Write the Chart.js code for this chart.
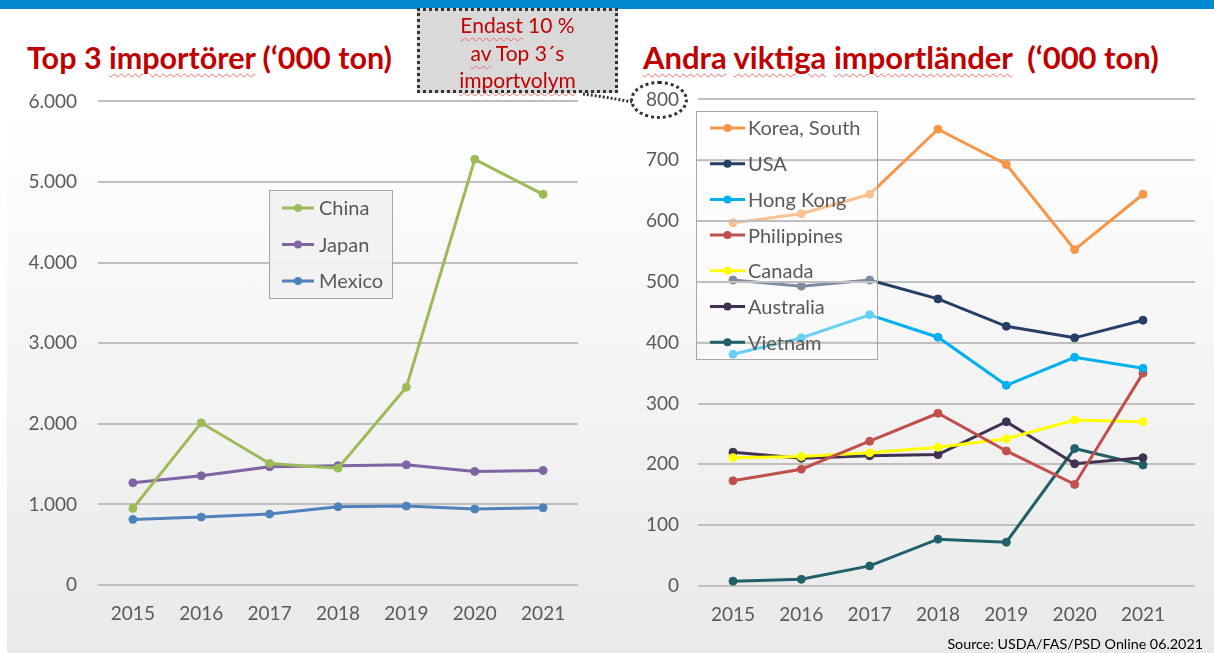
<!DOCTYPE html>
<html>
<head>
<meta charset="utf-8">
<script src="https://cdn.jsdelivr.net/npm/chart.js@4"></script>
<style>
  body { margin: 0; width: 1214px; height: 653px; overflow: hidden; position: relative; background: #fff; font-family: Lato, sans-serif; }
  #bg { position: absolute; left: 7px; top: 10px; right: 0; bottom: 0; background: linear-gradient(#ffffff 0%, #ffffff 15%, #e9e9e9 100%); }
  #bar { position: absolute; left: 0; top: 0; width: 1214px; height: 9px; background: #0088d1; }
  .title { position: absolute; top: 42px; font-size: 30.5px; font-weight: bold; color: #c00000; line-height: 30.5px; white-space: pre; }
  .sq { text-decoration: underline wavy #f06a6a; text-decoration-thickness: 1px; text-underline-offset: 4px; }
  canvas { position: absolute; }
  #callout { position: absolute; left: 417px; top: 8px; width: 201px; height: 85px; box-sizing: border-box;
    border: 3px dotted #333; background: #d9d9d9; color: #c00000; font-size: 21px; line-height: 27.5px; text-align: center; padding-top: 0; }
  #ellipse { position: absolute; left: 630px; top: 81px; width: 58px; height: 38px; box-sizing: border-box; border: 3px dotted #333; border-radius: 50%; }
  #conn { position: absolute; left: 0; top: 0; }
  #source { position: absolute; right: 11px; top: 635px; font-size: 14.3px; color: #000; }
</style>
</head>
<body>
<div id="bg"></div>
<div id="bar"></div>
<div class="title" style="left:27px;">Top 3 <span class="sq">importörer</span> (‘000 ton)</div>
<div class="title" style="left:643px;font-size:31px;"><span class="sq">Andra</span> <span class="sq">viktiga</span> <span class="sq">importländer</span>  (‘000 ton)</div>
<canvas id="left" width="570" height="566" style="left:20px; top:69px;"></canvas>
<canvas id="right" width="580" height="567" style="left:620px; top:69px;"></canvas>
<div id="callout"><span class="sq">Endast</span> 10 %<br><span class="sq">av</span> Top 3´s<br><span class="sq">importvolym</span></div>
<svg id="conn" width="1214" height="653"><path d="M583,94 Q606,97 632,102" fill="none" stroke="#333" stroke-width="3" stroke-dasharray="2 2"/></svg>
<div id="ellipse"></div>
<div id="source">Source: USDA/FAS/PSD Online 06.2021</div>
<script>
const years = ['2015', '2016', '2017', '2018', '2019', '2020', '2021'];

// Top 3 ('000 ton)
const china = [951, 2012, 1508, 1450, 2454, 5281, 4847];
const japan = [1268, 1355, 1467, 1479, 1491, 1409, 1421];
const mexico = [814, 843, 880, 971, 979, 942, 958];

// others ('000 ton)
const korea = [597, 612, 644, 751, 693, 553, 644];
const usa = [503, 493, 503, 472, 427, 408, 437];
const hongKong = [381, 408, 446, 409, 330, 376, 358];
const philippines = [173, 192, 238, 284, 222, 167, 350];
const canada = [211, 213, 219, 228, 242, 273, 270];
const australia = [220, 210, 214, 216, 270, 201, 211];
const vietnam = [8, 11, 33, 77, 72, 226, 199];

Chart.defaults.font.family = 'Lato, sans-serif';
Chart.defaults.color = '#595959';

const overlayLegend = {
  id: 'overlayLegend',
  afterDatasetsDraw(chart, args, o) {
    const ctx = chart.ctx;
    ctx.save();
    ctx.fillStyle = o.fill;
    ctx.fillRect(o.x, o.y, o.w, o.h);
    if (o.gridOver) {
      const ys = chart.scales.y;
      ctx.strokeStyle = o.gridColor;
      ctx.lineWidth = 2;
      ys.ticks.forEach(t => {
        const py = ys.getPixelForValue(t.value);
        if (py > o.y && py < o.y + o.h) {
          ctx.beginPath();
          ctx.moveTo(o.x, py);
          ctx.lineTo(o.x + o.w, py);
          ctx.stroke();
        }
      });
    }
    ctx.strokeStyle = '#a6a6a6';
    ctx.lineWidth = 1;
    ctx.strokeRect(o.x + 0.5, o.y + 0.5, o.w, o.h);
    ctx.font = o.fontSize + 'px Lato, sans-serif';
    ctx.textBaseline = 'middle';
    chart.data.datasets.forEach((ds, i) => {
      const y = o.y + o.first + i * o.step;
      ctx.strokeStyle = ds.borderColor;
      ctx.fillStyle = ds.borderColor;
      ctx.lineWidth = 3;
      ctx.beginPath();
      ctx.moveTo(o.x + o.lineX, y);
      ctx.lineTo(o.x + o.lineX + o.lineW, y);
      ctx.stroke();
      ctx.beginPath();
      ctx.arc(o.x + o.lineX + o.lineW / 2, y, 4, 0, Math.PI * 2);
      ctx.fill();
      ctx.fillStyle = '#595959';
      ctx.fillText(ds.label, o.x + o.textX, y + 1);
    });
    ctx.restore();
  }
};

function series(label, values, color) {
  return { label, data: values.map((v, i) => ({ x: Number(years[i]), y: v })),
    borderColor: color, backgroundColor: color, borderWidth: 3,
    pointRadius: 4, pointBorderWidth: 1, pointBackgroundColor: color, tension: 0 };
}

function dotted(v) {
  return v.toString().replace(/\B(?=(\d{3})+(?!\d))/g, '.');
}

function xAxis(min, max) {
  return {
    type: 'linear', min, max,
    grid: { display: false, drawTicks: false },
    border: { display: false },
    ticks: { stepSize: 1, includeBounds: false, font: { size: 19 }, padding: 17, callback: v => String(v) },
    afterFit: s => { s.height = 50; }
  };
}

new Chart(document.getElementById('left'), {
  type: 'line',
  data: {
    datasets: [
      series('China', china, '#9bbb59'),
      series('Japan', japan, '#8064a2'),
      series('Mexico', mexico, '#4f81bd')
    ]
  },
  options: {
    responsive: false,
    animation: false,
    layout: { padding: { top: 11, right: 12 } },
    plugins: {
      legend: { display: false },
      tooltip: { enabled: false },
      overlayLegend: { x: 249, y: 121, w: 123, h: 108, first: 18, step: 36.5, lineX: 13, lineW: 32, textX: 50,
        fontSize: 20, fill: 'rgba(242,242,242,0.97)', gridOver: false }
    },
    scales: {
      x: xAxis(2014.49, 2021.51),
      y: {
        min: 0, max: 6000,
        grid: { color: '#bfbfbf', lineWidth: 2, drawTicks: false },
        border: { display: false },
        ticks: { stepSize: 1000, font: { size: 19 }, padding: 21, callback: v => dotted(v) },
        afterFit: s => { s.width = 78; }
      }
    }
  },
  plugins: [overlayLegend]
});

new Chart(document.getElementById('right'), {
  type: 'line',
  data: {
    datasets: [
      series('Korea, South', korea, '#f79646'),
      series('USA', usa, '#253f66'),
      series('Hong Kong', hongKong, '#00b0f0'),
      series('Philippines', philippines, '#c0504d'),
      series('Canada', canada, '#ffff00'),
      series('Australia', australia, '#403152'),
      series('Vietnam', vietnam, '#215f6b')
    ]
  },
  options: {
    responsive: false,
    animation: false,
    layout: { padding: { top: 13, right: 5 } },
    plugins: {
      legend: { display: false },
      tooltip: { enabled: false },
      overlayLegend: { x: 76, y: 42, w: 181, h: 248, first: 17, step: 35.7, lineX: 14, lineW: 35, textX: 52,
        fontSize: 20, fill: 'rgba(255,255,255,0.4)', gridOver: true, gridColor: '#bfbfbf' }
    },
    scales: {
      x: xAxis(2014.488, 2021.761),
      y: {
        min: 0, max: 800,
        grid: { color: '#bfbfbf', lineWidth: 2, drawTicks: false },
        border: { display: false },
        ticks: { stepSize: 100, font: { size: 19 }, padding: 19 },
        afterFit: s => { s.width = 78; }
      }
    }
  },
  plugins: [overlayLegend]
});
</script>
</body>
</html>
